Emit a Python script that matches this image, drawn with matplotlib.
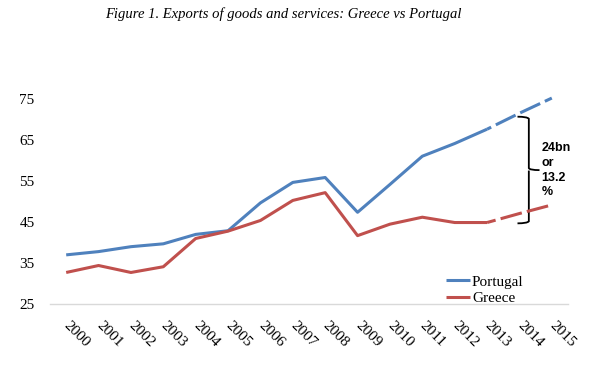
import matplotlib
matplotlib.use("Agg")
import matplotlib.pyplot as plt
from matplotlib.path import Path
from matplotlib.patches import PathPatch

years = [str(y) for y in range(2000, 2016)]
portugal = [37.0, 37.8, 39.0, 39.7, 42.0, 42.9, 49.7, 54.7, 55.9, 47.4, 54.2, 61.1, 64.2, 67.7]
greece = [32.7, 34.4, 32.7, 34.1, 41.0, 42.8, 45.4, 50.3, 52.2, 41.7, 44.5, 46.2, 44.9, 44.9]
portugal_proj = [67.7, 71.6, 75.3]
greece_proj = [44.9, 47.1, 49.2]
yticks = [25, 35, 45, 55, 65, 75]
title = "Figure 1. Exports of goods and services: Greece vs Portugal"
annotation = "24bn\nor\n13.2\n%"

blue = "#4F81BD"
red = "#C0504D"
W, H = 592, 367
fig = plt.figure(figsize=(W / 100, H / 100), dpi=100)
ax = fig.add_axes([50 / W, (H - 304) / H, 518 / W, 204.7 / H])

x = list(range(len(years)))
n = len(portugal)
ax.plot(x[:n], portugal, color=blue, lw=2.2, clip_on=False, label="Portugal", solid_capstyle="butt")
ax.plot(x[:n], greece, color=red, lw=2.2, clip_on=False, label="Greece", solid_capstyle="butt")
ax.plot(x[n - 1:], portugal_proj, color=blue, lw=2.2, clip_on=False, ls=(5.7, (7.2, 1.7)), dash_capstyle="butt")
ax.plot(x[n - 1:], greece_proj, color=red, lw=2.2, clip_on=False, ls=(4.3, (7.2, 1.7)), dash_capstyle="butt")

ax.set_xlim(-0.5, len(years) - 0.5)
ax.set_ylim(25, 75)
ax.set_yticks(yticks)
ax.set_yticklabels([str(v) for v in yticks], family="Liberation Serif", fontsize=11)
ax.set_xticks(x)
ax.set_xticklabels(years, family="Liberation Serif", fontsize=11, rotation=-45,
                   rotation_mode="anchor", ha="left", va="center")
ax.tick_params(axis="y", length=0, pad=11)
ax.tick_params(axis="x", length=0, pad=14)
for s in ["top", "right", "left"]:
    ax.spines[s].set_visible(False)
ax.spines["bottom"].set_color("#D9D9D9")
ax.spines["bottom"].set_linewidth(1.0)

# curly brace
xb, xl, xt = 14.29, 13.94, 14.62
yt, ym, ybt = 70.75, 57.7, 44.7
verts = [(xl, yt), (xb - 0.05, yt), (xb, yt - 0.5), (xb, ym + 0.5), (xb + 0.02, ym), (xt, ym),
         (xb, ym - 0.1), (xb, ybt + 0.5), (xb - 0.05, ybt), (xl, ybt)]
codes = [Path.MOVETO, Path.CURVE3, Path.CURVE3, Path.LINETO, Path.CURVE3, Path.CURVE3,
         Path.MOVETO, Path.LINETO, Path.CURVE3, Path.CURVE3]
ax.add_patch(PathPatch(Path(verts, codes), facecolor="none", edgecolor="black", lw=1.3, clip_on=False))
ax.text(14.68, 64.5, annotation, family="Liberation Sans", fontweight="bold", fontsize=9,
        va="top", ha="left", linespacing=1.3)

leg = ax.legend(loc="upper left", bbox_to_anchor=(446 / W, (H - 275) / H), bbox_transform=fig.transFigure,
                frameon=False, prop={"family": "Liberation Serif", "size": 11},
                handlelength=1.6, handletextpad=0.1, labelspacing=0.2, borderpad=0, borderaxespad=0)

fig.text(283 / W, 1 - 14 / H, title, family="Liberation Serif", style="italic", fontsize=10.5,
         ha="center", va="center")

fig.savefig("out.png", dpi=100)
